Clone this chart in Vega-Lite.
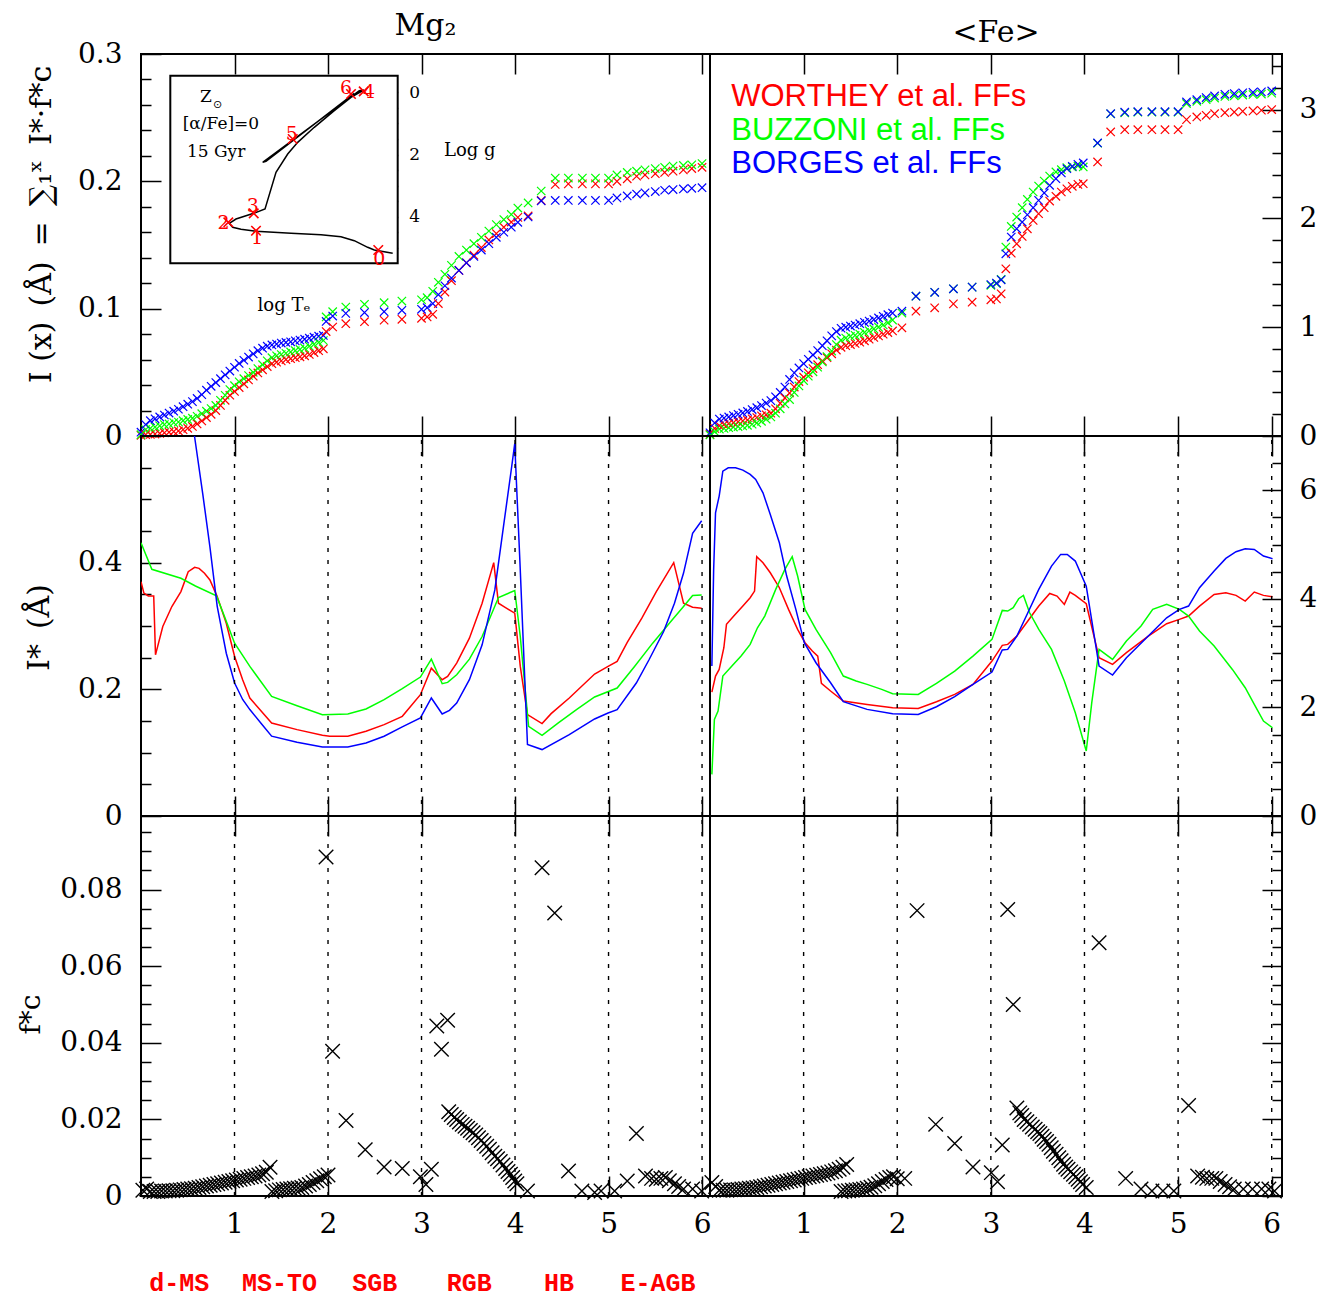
{
"$schema":"https://vega.github.io/schema/vega-lite/v6.json",
"background":"white",
"padding":{"left":16,"top":10,"right":0,"bottom":4},
"datasets":{
"tl":[
{"x":0.00,"W":0.0005,"B":0.001,"Bo":0.003},{"x":0.05,"W":0.001,"B":0.005,"Bo":0.009},{"x":0.10,"W":0.0012,"B":0.006,"Bo":0.012},{"x":0.15,"W":0.0015,"B":0.007,"Bo":0.0135},{"x":0.20,"W":0.002,"B":0.008,"Bo":0.015},{"x":0.25,"W":0.0025,"B":0.009,"Bo":0.0165},{"x":0.30,"W":0.003,"B":0.0095,"Bo":0.018},{"x":0.35,"W":0.0035,"B":0.0105,"Bo":0.0195},{"x":0.40,"W":0.004,"B":0.011,"Bo":0.021},{"x":0.45,"W":0.005,"B":0.012,"Bo":0.023},{"x":0.50,"W":0.006,"B":0.013,"Bo":0.025},{"x":0.55,"W":0.0075,"B":0.014,"Bo":0.027},{"x":0.60,"W":0.0095,"B":0.0155,"Bo":0.0295},{"x":0.65,"W":0.0118,"B":0.0175,"Bo":0.0325},{"x":0.70,"W":0.0145,"B":0.0195,"Bo":0.036},{"x":0.75,"W":0.017,"B":0.0215,"Bo":0.039},{"x":0.80,"W":0.02,"B":0.024,"Bo":0.042},{"x":0.85,"W":0.024,"B":0.028,"Bo":0.045},{"x":0.90,"W":0.028,"B":0.032,"Bo":0.048},{"x":0.95,"W":0.032,"B":0.0365,"Bo":0.051},{"x":1.00,"W":0.035,"B":0.0395,"Bo":0.054},{"x":1.05,"W":0.038,"B":0.0425,"Bo":0.057},{"x":1.10,"W":0.041,"B":0.045,"Bo":0.0595},{"x":1.15,"W":0.044,"B":0.0475,"Bo":0.062},{"x":1.20,"W":0.047,"B":0.05,"Bo":0.0645},{"x":1.25,"W":0.0495,"B":0.053,"Bo":0.067},{"x":1.30,"W":0.052,"B":0.056,"Bo":0.069},{"x":1.35,"W":0.0545,"B":0.059,"Bo":0.0705},{"x":1.40,"W":0.0568,"B":0.0615,"Bo":0.0715},{"x":1.45,"W":0.058,"B":0.063,"Bo":0.0722},{"x":1.50,"W":0.059,"B":0.064,"Bo":0.073},{"x":1.55,"W":0.06,"B":0.065,"Bo":0.0735},{"x":1.60,"W":0.0607,"B":0.066,"Bo":0.074},{"x":1.65,"W":0.0615,"B":0.067,"Bo":0.0747},{"x":1.70,"W":0.0622,"B":0.068,"Bo":0.0753},{"x":1.75,"W":0.063,"B":0.069,"Bo":0.076},{"x":1.80,"W":0.064,"B":0.0705,"Bo":0.0768},{"x":1.85,"W":0.0655,"B":0.072,"Bo":0.0776},{"x":1.90,"W":0.067,"B":0.0735,"Bo":0.0784},{"x":1.95,"W":0.0685,"B":0.075,"Bo":0.079},
{"x":1.98,"W":0.082,"B":0.0935,"Bo":0.090},{"x":2.05,"W":0.0856,"B":0.0976,"Bo":0.0942},{"x":2.19,"W":0.0882,"B":0.1013,"Bo":0.0963},{"x":2.39,"W":0.0898,"B":0.1034,"Bo":0.0969},{"x":2.60,"W":0.0909,"B":0.1047,"Bo":0.0976},{"x":2.79,"W":0.0916,"B":0.106,"Bo":0.0987},{"x":3.00,"W":0.0924,"B":0.107,"Bo":0.0995},{"x":3.06,"W":0.0935,"B":0.1086,"Bo":0.1008},{"x":3.12,"W":0.0956,"B":0.1136,"Bo":0.104},{"x":3.18,"W":0.104,"B":0.1207,"Bo":0.111},{"x":3.25,"W":0.113,"B":0.127,"Bo":0.118},{"x":3.32,"W":0.122,"B":0.134,"Bo":0.124},{"x":3.40,"W":0.13,"B":0.141,"Bo":0.13},{"x":3.48,"W":0.136,"B":0.146,"Bo":0.136},{"x":3.56,"W":0.142,"B":0.151,"Bo":0.141},{"x":3.64,"W":0.148,"B":0.156,"Bo":0.146},{"x":3.72,"W":0.154,"B":0.161,"Bo":0.151},{"x":3.80,"W":0.159,"B":0.166,"Bo":0.156},{"x":3.88,"W":0.164,"B":0.17,"Bo":0.16},{"x":3.96,"W":0.168,"B":0.174,"Bo":0.164},{"x":4.03,"W":0.1717,"B":0.179,"Bo":0.1678},{"x":4.14,"W":0.1728,"B":0.183,"Bo":0.172},{"x":4.28,"W":0.185,"B":0.1924,"Bo":0.1846},{"x":4.43,"W":0.1975,"B":0.2026,"Bo":0.185},{"x":4.57,"W":0.198,"B":0.2026,"Bo":0.185},{"x":4.72,"W":0.198,"B":0.2026,"Bo":0.185},{"x":4.86,"W":0.198,"B":0.2026,"Bo":0.185},{"x":5.00,"W":0.198,"B":0.2026,"Bo":0.185},{"x":5.09,"W":0.2,"B":0.205,"Bo":0.187},{"x":5.20,"W":0.202,"B":0.207,"Bo":0.1885},{"x":5.30,"W":0.204,"B":0.208,"Bo":0.19},{"x":5.39,"W":0.205,"B":0.209,"Bo":0.191},{"x":5.50,"W":0.206,"B":0.21,"Bo":0.192},{"x":5.60,"W":0.207,"B":0.211,"Bo":0.193},{"x":5.69,"W":0.208,"B":0.212,"Bo":0.1935},{"x":5.80,"W":0.209,"B":0.2125,"Bo":0.194},{"x":5.89,"W":0.21,"B":0.213,"Bo":0.1945},{"x":6.00,"W":0.211,"B":0.214,"Bo":0.195}
],
"tr":[
{"x":0.00,"W":0.015,"B":0.01,"Bo":0.03},{"x":0.05,"W":0.07,"B":0.04,"Bo":0.12},{"x":0.10,"W":0.095,"B":0.064,"Bo":0.156},{"x":0.15,"W":0.105,"B":0.07,"Bo":0.165},{"x":0.20,"W":0.114,"B":0.076,"Bo":0.175},{"x":0.25,"W":0.122,"B":0.082,"Bo":0.188},{"x":0.30,"W":0.13,"B":0.087,"Bo":0.2},{"x":0.35,"W":0.138,"B":0.092,"Bo":0.212},{"x":0.40,"W":0.146,"B":0.098,"Bo":0.226},{"x":0.45,"W":0.158,"B":0.108,"Bo":0.243},{"x":0.50,"W":0.17,"B":0.12,"Bo":0.26},{"x":0.55,"W":0.185,"B":0.135,"Bo":0.28},{"x":0.60,"W":0.195,"B":0.155,"Bo":0.302},{"x":0.65,"W":0.21,"B":0.175,"Bo":0.325},{"x":0.70,"W":0.25,"B":0.21,"Bo":0.36},{"x":0.75,"W":0.3,"B":0.25,"Bo":0.4},{"x":0.80,"W":0.35,"B":0.295,"Bo":0.45},{"x":0.85,"W":0.395,"B":0.335,"Bo":0.52},{"x":0.90,"W":0.45,"B":0.4,"Bo":0.58},{"x":0.95,"W":0.5,"B":0.46,"Bo":0.625},{"x":1.00,"W":0.54,"B":0.509,"Bo":0.665},{"x":1.05,"W":0.58,"B":0.55,"Bo":0.705},{"x":1.10,"W":0.62,"B":0.59,"Bo":0.745},{"x":1.15,"W":0.655,"B":0.632,"Bo":0.785},{"x":1.20,"W":0.69,"B":0.68,"Bo":0.83},{"x":1.25,"W":0.72,"B":0.73,"Bo":0.875},{"x":1.30,"W":0.755,"B":0.78,"Bo":0.92},{"x":1.35,"W":0.79,"B":0.84,"Bo":0.96},{"x":1.40,"W":0.815,"B":0.88,"Bo":0.99},{"x":1.45,"W":0.83,"B":0.9,"Bo":1.0},{"x":1.50,"W":0.84,"B":0.915,"Bo":1.01},{"x":1.55,"W":0.85,"B":0.925,"Bo":1.02},{"x":1.60,"W":0.862,"B":0.937,"Bo":1.032},{"x":1.65,"W":0.875,"B":0.952,"Bo":1.044},{"x":1.70,"W":0.89,"B":0.968,"Bo":1.056},{"x":1.75,"W":0.905,"B":0.984,"Bo":1.07},{"x":1.80,"W":0.92,"B":1.0,"Bo":1.085},{"x":1.85,"W":0.935,"B":1.02,"Bo":1.1},{"x":1.90,"W":0.95,"B":1.04,"Bo":1.115},{"x":1.95,"W":0.965,"B":1.065,"Bo":1.13},
{"x":2.05,"W":0.994,"B":1.13,"Bo":1.147},{"x":2.2,"W":1.147,"B":1.285,"Bo":1.285},{"x":2.4,"W":1.178,"B":1.32,"Bo":1.32},{"x":2.6,"W":1.214,"B":1.352,"Bo":1.352},{"x":2.8,"W":1.23,"B":1.368,"Bo":1.368},{"x":3.0,"W":1.251,"B":1.385,"Bo":1.392},{"x":3.06,"W":1.26,"B":1.4,"Bo":1.405},{"x":3.11,"W":1.306,"B":1.44,"Bo":1.435},{"x":3.16,"W":1.536,"B":1.736,"Bo":1.674},{"x":3.218,"W":1.68,"B":1.926,"Bo":1.828},{"x":3.276,"W":1.766,"B":2.012,"Bo":1.904},{"x":3.335,"W":1.834,"B":2.098,"Bo":1.966},{"x":3.39,"W":1.904,"B":2.174,"Bo":2.033},{"x":3.452,"W":1.981,"B":2.242,"Bo":2.098},{"x":3.51,"W":2.042,"B":2.297,"Bo":2.165},{"x":3.57,"W":2.098,"B":2.343,"Bo":2.233},{"x":3.628,"W":2.159,"B":2.389,"Bo":2.303},{"x":3.695,"W":2.202,"B":2.426,"Bo":2.364},{"x":3.753,"W":2.242,"B":2.447,"Bo":2.417},{"x":3.812,"W":2.272,"B":2.466,"Bo":2.456},{"x":3.87,"W":2.294,"B":2.472,"Bo":2.478},{"x":3.93,"W":2.312,"B":2.481,"Bo":2.496},{"x":3.987,"W":2.318,"B":2.472,"Bo":2.509},{"x":4.14,"W":2.518,"B":2.69,"Bo":2.693},{"x":4.28,"W":2.794,"B":2.96,"Bo":2.962},{"x":4.43,"W":2.815,"B":2.97,"Bo":2.975},{"x":4.57,"W":2.815,"B":2.975,"Bo":2.98},{"x":4.72,"W":2.815,"B":2.975,"Bo":2.98},{"x":4.86,"W":2.815,"B":2.975,"Bo":2.98},{"x":5.0,"W":2.815,"B":2.975,"Bo":2.98},{"x":5.09,"W":2.907,"B":3.055,"Bo":3.07},{"x":5.2,"W":2.932,"B":3.075,"Bo":3.09},{"x":5.3,"W":2.947,"B":3.09,"Bo":3.11},{"x":5.39,"W":2.962,"B":3.105,"Bo":3.125},{"x":5.5,"W":2.971,"B":3.12,"Bo":3.14},{"x":5.6,"W":2.976,"B":3.126,"Bo":3.146},{"x":5.69,"W":2.983,"B":3.133,"Bo":3.153},{"x":5.8,"W":2.987,"B":3.138,"Bo":3.158},{"x":5.89,"W":2.993,"B":3.142,"Bo":3.162},{"x":6.0,"W":2.999,"B":3.15,"Bo":3.171}
],
"ml":[
{"s":"W","x":0,"v":0.37},{"s":"W","x":0.031,"v":0.352},{"s":"W","x":0.078,"v":0.3475},{"s":"W","x":0.136,"v":0.3475},{"s":"W","x":0.155,"v":0.2545},{"s":"W","x":0.233,"v":0.2992},{"s":"W","x":0.33,"v":0.3307},{"s":"W","x":0.427,"v":0.3543},{"s":"W","x":0.505,"v":0.3858},{"s":"W","x":0.574,"v":0.3926},{"s":"W","x":0.621,"v":0.391},{"s":"W","x":0.679,"v":0.3832},{"s":"W","x":0.737,"v":0.3727},{"s":"W","x":0.815,"v":0.3464},{"s":"W","x":0.912,"v":0.3044},{"s":"W","x":1.001,"v":0.2519},{"s":"W","x":1.087,"v":0.2152},{"s":"W","x":1.164,"v":0.1863},{"s":"W","x":1.397,"v":0.1469},{"s":"W","x":1.669,"v":0.1364},{"s":"W","x":1.94,"v":0.1275},{"s":"W","x":2.018,"v":0.1259},{"s":"W","x":2.212,"v":0.1259},{"s":"W","x":2.406,"v":0.1338},{"s":"W","x":2.6,"v":0.1443},{"s":"W","x":2.794,"v":0.1574},{"s":"W","x":2.988,"v":0.1915},{"s":"W","x":3.105,"v":0.2335},{"s":"W","x":3.221,"v":0.2152},{"s":"W","x":3.279,"v":0.2204},{"s":"W","x":3.376,"v":0.2414},{"s":"W","x":3.512,"v":0.2808},{"s":"W","x":3.648,"v":0.3359},{"s":"W","x":3.772,"v":0.4},{"s":"W","x":3.823,"v":0.3359},{"s":"W","x":3.881,"v":0.3307},{"s":"W","x":3.997,"v":0.3202},{"s":"W","x":4.056,"v":0.2362},{"s":"W","x":4.133,"v":0.16},{"s":"W","x":4.289,"v":0.1459},{"s":"W","x":4.386,"v":0.1616},{"s":"W","x":4.58,"v":0.1863},{"s":"W","x":4.851,"v":0.2241},{"s":"W","x":4.995,"v":0.2362},{"s":"W","x":5.092,"v":0.244},{"s":"W","x":5.2,"v":0.274},{"s":"W","x":5.356,"v":0.3123},{"s":"W","x":5.511,"v":0.3543},{"s":"W","x":5.697,"v":0.4},{"s":"W","x":5.802,"v":0.3359},{"s":"W","x":5.899,"v":0.3296},{"s":"W","x":5.996,"v":0.328},
{"s":"B","x":0,"v":0.4315},{"s":"B","x":0.039,"v":0.4173},{"s":"B","x":0.116,"v":0.3895},{"s":"B","x":0.427,"v":0.3753},{"s":"B","x":0.582,"v":0.3632},{"s":"B","x":0.807,"v":0.3475},{"s":"B","x":0.893,"v":0.3149},{"s":"B","x":1.001,"v":0.2729},{"s":"B","x":1.164,"v":0.2362},{"s":"B","x":1.397,"v":0.1889},{"s":"B","x":1.669,"v":0.1742},{"s":"B","x":1.94,"v":0.16},{"s":"B","x":2.212,"v":0.1611},{"s":"B","x":2.406,"v":0.169},{"s":"B","x":2.6,"v":0.1837},{"s":"B","x":2.794,"v":0.201},{"s":"B","x":2.988,"v":0.2194},{"s":"B","x":3.105,"v":0.2477},{"s":"B","x":3.221,"v":0.2089},{"s":"B","x":3.279,"v":0.211},{"s":"B","x":3.376,"v":0.2231},{"s":"B","x":3.512,"v":0.2477},{"s":"B","x":3.648,"v":0.2834},{"s":"B","x":3.823,"v":0.345},{"s":"B","x":3.997,"v":0.356},{"s":"B","x":4.056,"v":0.2834},{"s":"B","x":4.145,"v":0.1417},{"s":"B","x":4.289,"v":0.1275},{"s":"B","x":4.463,"v":0.147},{"s":"B","x":4.657,"v":0.168},{"s":"B","x":4.851,"v":0.1879},{"s":"B","x":5.092,"v":0.2021},{"s":"B","x":5.278,"v":0.2362},{"s":"B","x":5.472,"v":0.2729},{"s":"B","x":5.666,"v":0.307},{"s":"B","x":5.802,"v":0.3307},{"s":"B","x":5.899,"v":0.348},{"s":"B","x":5.996,"v":0.349},
{"s":"Bo","x":0.45,"v":0.73},{"s":"Bo","x":0.574,"v":0.598},{"s":"Bo","x":0.66,"v":0.509},{"s":"Bo","x":0.737,"v":0.425},{"s":"Bo","x":0.815,"v":0.331},{"s":"Bo","x":0.912,"v":0.257},{"s":"Bo","x":1.001,"v":0.21},{"s":"Bo","x":1.087,"v":0.184},{"s":"Bo","x":1.164,"v":0.168},{"s":"Bo","x":1.281,"v":0.147},{"s":"Bo","x":1.397,"v":0.126},{"s":"Bo","x":1.669,"v":0.1164},{"s":"Bo","x":1.94,"v":0.1091},{"s":"Bo","x":2.212,"v":0.1091},{"s":"Bo","x":2.406,"v":0.1154},{"s":"Bo","x":2.6,"v":0.1259},{"s":"Bo","x":2.794,"v":0.1406},{"s":"Bo","x":2.988,"v":0.1548},{"s":"Bo","x":3.105,"v":0.1863},{"s":"Bo","x":3.221,"v":0.1611},{"s":"Bo","x":3.299,"v":0.1668},{"s":"Bo","x":3.376,"v":0.1784},{"s":"Bo","x":3.512,"v":0.2152},{"s":"Bo","x":3.648,"v":0.2703},{"s":"Bo","x":3.784,"v":0.357},{"s":"Bo","x":3.881,"v":0.4619},{"s":"Bo","x":3.959,"v":0.5459},{"s":"Bo","x":3.997,"v":0.5879},{"s":"Bo","x":4.056,"v":0.3884},{"s":"Bo","x":4.133,"v":0.1128},{"s":"Bo","x":4.289,"v":0.1049},{"s":"Bo","x":4.58,"v":0.1285},{"s":"Bo","x":4.851,"v":0.1532},{"s":"Bo","x":4.995,"v":0.1627},{"s":"Bo","x":5.092,"v":0.1679},{"s":"Bo","x":5.297,"v":0.2099},{"s":"Bo","x":5.433,"v":0.2467},{"s":"Bo","x":5.589,"v":0.2913},{"s":"Bo","x":5.705,"v":0.3359},{"s":"Bo","x":5.802,"v":0.3836},{"s":"Bo","x":5.899,"v":0.4462},{"s":"Bo","x":5.996,"v":0.4661}
],
"mr":[
{"s":"W","x":0.02,"v":2.283},{"s":"W","x":0.059,"v":2.578},{"s":"W","x":0.098,"v":2.7},{"s":"W","x":0.148,"v":3.1},{"s":"W","x":0.176,"v":3.53},{"s":"W","x":0.254,"v":3.683},{"s":"W","x":0.351,"v":3.867},{"s":"W","x":0.429,"v":4.02},{"s":"W","x":0.476,"v":4.143},{"s":"W","x":0.499,"v":4.776},{"s":"W","x":0.566,"v":4.665},{"s":"W","x":0.644,"v":4.481},{"s":"W","x":0.741,"v":4.205},{"s":"W","x":0.839,"v":3.806},{"s":"W","x":0.936,"v":3.437},{"s":"W","x":1.015,"v":3.192},{"s":"W","x":1.093,"v":3.038},{"s":"W","x":1.151,"v":2.946},{"s":"W","x":1.19,"v":2.443},{"s":"W","x":1.288,"v":2.302},{"s":"W","x":1.424,"v":2.118},{"s":"W","x":1.678,"v":2.056},{"s":"W","x":1.951,"v":1.995},{"s":"W","x":2.224,"v":1.982},{"s":"W","x":2.419,"v":2.105},{"s":"W","x":2.614,"v":2.24},{"s":"W","x":2.809,"v":2.425},{"s":"W","x":3.012,"v":2.854},{"s":"W","x":3.122,"v":3.143},{"s":"W","x":3.18,"v":3.161},{"s":"W","x":3.278,"v":3.315},{"s":"W","x":3.395,"v":3.591},{"s":"W","x":3.512,"v":3.867},{"s":"W","x":3.629,"v":4.1},{"s":"W","x":3.707,"v":4.051},{"s":"W","x":3.785,"v":3.898},{"s":"W","x":3.844,"v":4.125},{"s":"W","x":3.902,"v":4.064},{"s":"W","x":4.019,"v":3.91},{"s":"W","x":4.156,"v":2.916},{"s":"W","x":4.3,"v":2.793},{"s":"W","x":4.448,"v":3.008},{"s":"W","x":4.682,"v":3.315},{"s":"W","x":4.878,"v":3.542},{"s":"W","x":5.014,"v":3.622},{"s":"W","x":5.112,"v":3.683},{"s":"W","x":5.229,"v":3.867},{"s":"W","x":5.385,"v":4.082},{"s":"W","x":5.51,"v":4.113},{"s":"W","x":5.619,"v":4.064},{"s":"W","x":5.717,"v":3.959},{"s":"W","x":5.814,"v":4.125},{"s":"W","x":5.912,"v":4.064},{"s":"W","x":6.009,"v":4.039},
{"s":"B","x":0.02,"v":0.767},{"s":"B","x":0.047,"v":1.78},{"s":"B","x":0.086,"v":1.933},{"s":"B","x":0.137,"v":2.578},{"s":"B","x":0.234,"v":2.762},{"s":"B","x":0.332,"v":2.946},{"s":"B","x":0.429,"v":3.161},{"s":"B","x":0.507,"v":3.468},{"s":"B","x":0.585,"v":3.683},{"s":"B","x":0.702,"v":4.174},{"s":"B","x":0.8,"v":4.542},{"s":"B","x":0.878,"v":4.776},{"s":"B","x":0.936,"v":4.42},{"s":"B","x":1.015,"v":3.806},{"s":"B","x":1.132,"v":3.437},{"s":"B","x":1.288,"v":3.008},{"s":"B","x":1.424,"v":2.578},{"s":"B","x":1.561,"v":2.486},{"s":"B","x":1.678,"v":2.425},{"s":"B","x":1.834,"v":2.332},{"s":"B","x":1.951,"v":2.253},{"s":"B","x":2.224,"v":2.24},{"s":"B","x":2.419,"v":2.443},{"s":"B","x":2.614,"v":2.67},{"s":"B","x":2.809,"v":2.946},{"s":"B","x":3.012,"v":3.253},{"s":"B","x":3.122,"v":3.787},{"s":"B","x":3.18,"v":3.775},{"s":"B","x":3.239,"v":3.836},{"s":"B","x":3.297,"v":4.002},{"s":"B","x":3.348,"v":4.064},{"s":"B","x":3.414,"v":3.744},{"s":"B","x":3.512,"v":3.437},{"s":"B","x":3.648,"v":3.069},{"s":"B","x":3.785,"v":2.486},{"s":"B","x":3.902,"v":1.903},{"s":"B","x":4.019,"v":1.197},{"s":"B","x":4.078,"v":2.087},{"s":"B","x":4.156,"v":3.069},{"s":"B","x":4.3,"v":2.885},{"s":"B","x":4.448,"v":3.222},{"s":"B","x":4.604,"v":3.499},{"s":"B","x":4.729,"v":3.806},{"s":"B","x":4.878,"v":3.898},{"s":"B","x":5.014,"v":3.806},{"s":"B","x":5.112,"v":3.683},{"s":"B","x":5.229,"v":3.407},{"s":"B","x":5.385,"v":3.13},{"s":"B","x":5.58,"v":2.7},{"s":"B","x":5.717,"v":2.363},{"s":"B","x":5.814,"v":2.056},{"s":"B","x":5.912,"v":1.749},{"s":"B","x":6.009,"v":1.626},
{"s":"Bo","x":0.02,"v":2.762},{"s":"Bo","x":0.039,"v":4.542},{"s":"Bo","x":0.059,"v":5.586},{"s":"Bo","x":0.098,"v":5.893},{"s":"Bo","x":0.137,"v":6.353},{"s":"Bo","x":0.195,"v":6.415},{"s":"Bo","x":0.273,"v":6.415},{"s":"Bo","x":0.351,"v":6.372},{"s":"Bo","x":0.429,"v":6.292},{"s":"Bo","x":0.488,"v":6.2},{"s":"Bo","x":0.566,"v":5.954},{"s":"Bo","x":0.644,"v":5.555},{"s":"Bo","x":0.741,"v":5.034},{"s":"Bo","x":0.819,"v":4.42},{"s":"Bo","x":0.917,"v":3.806},{"s":"Bo","x":1.007,"v":3.192},{"s":"Bo","x":1.132,"v":2.823},{"s":"Bo","x":1.288,"v":2.455},{"s":"Bo","x":1.424,"v":2.105},{"s":"Bo","x":1.678,"v":1.964},{"s":"Bo","x":1.951,"v":1.884},{"s":"Bo","x":2.224,"v":1.872},{"s":"Bo","x":2.419,"v":2.013},{"s":"Bo","x":2.614,"v":2.197},{"s":"Bo","x":2.809,"v":2.425},{"s":"Bo","x":3.012,"v":2.652},{"s":"Bo","x":3.122,"v":3.057},{"s":"Bo","x":3.18,"v":3.069},{"s":"Bo","x":3.278,"v":3.315},{"s":"Bo","x":3.395,"v":3.744},{"s":"Bo","x":3.512,"v":4.174},{"s":"Bo","x":3.648,"v":4.604},{"s":"Bo","x":3.746,"v":4.819},{"s":"Bo","x":3.816,"v":4.819},{"s":"Bo","x":3.902,"v":4.696},{"s":"Bo","x":4.019,"v":4.235},{"s":"Bo","x":4.156,"v":2.762},{"s":"Bo","x":4.3,"v":2.596},{"s":"Bo","x":4.448,"v":2.916},{"s":"Bo","x":4.682,"v":3.315},{"s":"Bo","x":4.878,"v":3.652},{"s":"Bo","x":5.014,"v":3.806},{"s":"Bo","x":5.112,"v":3.867},{"s":"Bo","x":5.229,"v":4.205},{"s":"Bo","x":5.385,"v":4.512},{"s":"Bo","x":5.51,"v":4.745},{"s":"Bo","x":5.619,"v":4.868},{"s":"Bo","x":5.717,"v":4.923},{"s":"Bo","x":5.814,"v":4.911},{"s":"Bo","x":5.912,"v":4.788},{"s":"Bo","x":6.009,"v":4.739}
],
"bl":[
{"x":0.02,"v":0.0015},{"x":0.06,"v":0.0018},{"x":0.10,"v":0.0012},{"x":0.14,"v":0.0012},{"x":0.18,"v":0.0012},{"x":0.22,"v":0.0013},{"x":0.26,"v":0.0013},{"x":0.30,"v":0.0014},{"x":0.34,"v":0.0014},{"x":0.38,"v":0.0015},{"x":0.42,"v":0.0016},{"x":0.46,"v":0.0017},{"x":0.50,"v":0.0018},{"x":0.54,"v":0.0019},{"x":0.58,"v":0.002},{"x":0.62,"v":0.0022},{"x":0.66,"v":0.0024},{"x":0.70,"v":0.0026},{"x":0.74,"v":0.0028},{"x":0.78,"v":0.003},{"x":0.82,"v":0.0032},{"x":0.86,"v":0.0034},{"x":0.90,"v":0.0036},{"x":0.94,"v":0.0038},{"x":0.98,"v":0.004},{"x":1.02,"v":0.0042},{"x":1.06,"v":0.0044},{"x":1.10,"v":0.0046},{"x":1.14,"v":0.0048},{"x":1.18,"v":0.005},{"x":1.22,"v":0.0052},{"x":1.26,"v":0.0055},{"x":1.30,"v":0.0058},{"x":1.34,"v":0.0062},{"x":1.38,"v":0.0075},
{"x":1.40,"v":0.0012},{"x":1.44,"v":0.0014},{"x":1.48,"v":0.0016},{"x":1.52,"v":0.0017},{"x":1.56,"v":0.0018},{"x":1.60,"v":0.0019},{"x":1.64,"v":0.002},{"x":1.68,"v":0.0021},{"x":1.72,"v":0.0022},{"x":1.76,"v":0.0026},{"x":1.80,"v":0.003},{"x":1.84,"v":0.0035},{"x":1.88,"v":0.004},{"x":1.92,"v":0.0045},{"x":1.96,"v":0.005},{"x":2.00,"v":0.0055},
{"x":1.979,"v":0.0885},{"x":2.049,"v":0.0378},{"x":2.193,"v":0.0197},{"x":2.398,"v":0.0121},{"x":2.6,"v":0.0076},{"x":2.794,"v":0.0072},{"x":2.988,"v":0.005},{"x":3.047,"v":0.003},{"x":3.105,"v":0.007},{"x":3.163,"v":0.0444},{"x":3.213,"v":0.0383},{"x":3.279,"v":0.0459},{"x":3.291,"v":0.022},{"x":3.318,"v":0.0213},{"x":3.35,"v":0.0205},{"x":3.376,"v":0.02},{"x":3.405,"v":0.0193},{"x":3.435,"v":0.0187},{"x":3.465,"v":0.0182},{"x":3.493,"v":0.0177},{"x":3.522,"v":0.0171},{"x":3.551,"v":0.0165},{"x":3.58,"v":0.0159},{"x":3.609,"v":0.0152},{"x":3.638,"v":0.0145},{"x":3.668,"v":0.0137},{"x":3.697,"v":0.013},{"x":3.726,"v":0.0122},{"x":3.755,"v":0.0113},{"x":3.784,"v":0.0104},{"x":3.813,"v":0.0097},{"x":3.842,"v":0.009},{"x":3.871,"v":0.0081},{"x":3.9,"v":0.0072},{"x":3.925,"v":0.0064},{"x":3.951,"v":0.0057},{"x":3.975,"v":0.0048},{"x":3.997,"v":0.0039},{"x":4.02,"v":0.0032},{"x":4.133,"v":0.0013},{"x":4.289,"v":0.0857},{"x":4.424,"v":0.0739},{"x":4.572,"v":0.0065},{"x":4.715,"v":0.0013},{"x":4.851,"v":0.0009},{"x":4.92,"v":0.0013},{"x":5.065,"v":0.0013},{"x":5.2,"v":0.0039},{"x":5.298,"v":0.0163},{"x":5.395,"v":0.0052},{"x":5.46,"v":0.0046},{"x":5.511,"v":0.0044},{"x":5.56,"v":0.0046},{"x":5.608,"v":0.0048},{"x":5.65,"v":0.004},{"x":5.705,"v":0.0032},{"x":5.75,"v":0.0025},{"x":5.802,"v":0.0018},{"x":5.899,"v":0.0018},{"x":5.996,"v":0.0013}
],
"br":[
{"x":0.02,"v":0.0035},{"x":0.06,"v":0.0025},{"x":0.10,"v":0.0015},{"x":0.14,"v":0.0015},{"x":0.18,"v":0.0015},{"x":0.22,"v":0.0016},{"x":0.26,"v":0.0016},{"x":0.30,"v":0.0017},{"x":0.34,"v":0.0018},{"x":0.38,"v":0.0019},{"x":0.42,"v":0.002},{"x":0.46,"v":0.0021},{"x":0.50,"v":0.0022},{"x":0.54,"v":0.0024},{"x":0.58,"v":0.0026},{"x":0.62,"v":0.0028},{"x":0.66,"v":0.003},{"x":0.70,"v":0.0032},{"x":0.74,"v":0.0034},{"x":0.78,"v":0.0036},{"x":0.82,"v":0.0038},{"x":0.86,"v":0.004},{"x":0.90,"v":0.0042},{"x":0.94,"v":0.0044},{"x":0.98,"v":0.0046},{"x":1.02,"v":0.0048},{"x":1.06,"v":0.005},{"x":1.10,"v":0.0052},{"x":1.14,"v":0.0054},{"x":1.18,"v":0.0056},{"x":1.22,"v":0.0058},{"x":1.26,"v":0.006},{"x":1.30,"v":0.0063},{"x":1.34,"v":0.0066},{"x":1.38,"v":0.007},{"x":1.42,"v":0.0075},{"x":1.46,"v":0.0082},
{"x":1.40,"v":0.0012},{"x":1.44,"v":0.0013},{"x":1.48,"v":0.0014},{"x":1.52,"v":0.0015},{"x":1.56,"v":0.0016},{"x":1.60,"v":0.0017},{"x":1.64,"v":0.0018},{"x":1.68,"v":0.002},{"x":1.72,"v":0.0023},{"x":1.76,"v":0.0027},{"x":1.80,"v":0.0032},{"x":1.84,"v":0.0038},{"x":1.88,"v":0.0043},{"x":1.92,"v":0.0048},{"x":1.96,"v":0.005},{"x":2.00,"v":0.0045},
{"x":2.08,"v":0.0046},{"x":2.212,"v":0.0745},{"x":2.411,"v":0.0187},{"x":2.614,"v":0.0137},{"x":2.809,"v":0.0076},{"x":3.005,"v":0.0061},{"x":3.071,"v":0.0037},{"x":3.122,"v":0.0133},{"x":3.18,"v":0.0748},{"x":3.239,"v":0.05},{"x":3.278,"v":0.023},{"x":3.309,"v":0.0217},{"x":3.33,"v":0.021},{"x":3.356,"v":0.02},{"x":3.385,"v":0.0194},{"x":3.414,"v":0.0187},{"x":3.443,"v":0.018},{"x":3.473,"v":0.0174},{"x":3.5,"v":0.0168},{"x":3.524,"v":0.0163},{"x":3.547,"v":0.0156},{"x":3.57,"v":0.0148},{"x":3.595,"v":0.0142},{"x":3.621,"v":0.0135},{"x":3.645,"v":0.0126},{"x":3.668,"v":0.0117},{"x":3.697,"v":0.0109},{"x":3.726,"v":0.01},{"x":3.75,"v":0.0092},{"x":3.777,"v":0.0083},{"x":3.8,"v":0.0076},{"x":3.824,"v":0.007},{"x":3.853,"v":0.0063},{"x":3.882,"v":0.0057},{"x":3.908,"v":0.005},{"x":3.933,"v":0.0044},{"x":3.957,"v":0.0037},{"x":3.98,"v":0.003},{"x":4.019,"v":0.0022},{"x":4.156,"v":0.0661},{"x":4.44,"v":0.0046},{"x":4.604,"v":0.0018},{"x":4.721,"v":0.0013},{"x":4.838,"v":0.0013},{"x":4.955,"v":0.0013},{"x":5.112,"v":0.0236},{"x":5.209,"v":0.0052},{"x":5.26,"v":0.0049},{"x":5.307,"v":0.0046},{"x":5.36,"v":0.0046},{"x":5.404,"v":0.0046},{"x":5.45,"v":0.0038},{"x":5.502,"v":0.003},{"x":5.55,"v":0.0024},{"x":5.6,"v":0.0018},{"x":5.697,"v":0.0018},{"x":5.794,"v":0.0018},{"x":5.892,"v":0.0018},{"x":5.97,"v":0.0018},{"x":6.03,"v":0.0013}
],
"track":[
{"o":1,"u":3.5577,"g":5.177},{"o":2,"u":3.586,"g":5.07},{"o":3,"u":3.5962,"g":4.984},{"o":4,"u":3.6168,"g":4.771},{"o":5,"u":3.6373,"g":4.643},{"o":6,"u":3.668,"g":4.579},{"o":7,"u":3.7142,"g":4.534},{"o":8,"u":3.7681,"g":4.469},{"o":9,"u":3.7912,"g":4.405},{"o":10,"u":3.804,"g":4.341},{"o":11,"u":3.8092,"g":4.212},{"o":12,"u":3.7989,"g":4.074},{"o":13,"u":3.7716,"g":3.891},{"o":14,"u":3.7542,"g":3.752},{"o":15,"u":3.7373,"g":2.572},{"o":16,"u":3.7193,"g":1.984},{"o":17,"u":3.7039,"g":1.608},{"o":18,"u":3.6784,"g":1.125},{"o":19,"u":3.6476,"g":0.591},{"o":20,"u":3.6219,"g":0.161},{"o":21,"u":3.6023,"g":-0.074},{"o":22,"u":3.6091,"g":-0.052},{"o":23,"u":3.7578,"g":2.251},{"o":24,"u":3.7527,"g":2.218},{"o":25,"u":3.6168,"g":0.032}
],
"stages":[
{"n":"0","u":3.5799,"g":5.07,"tu":3.5783,"tg":5.35},{"n":"1","u":3.7681,"g":4.45,"tu":3.7666,"tg":4.68},{"n":"2","u":3.8107,"g":4.18,"tu":3.818,"tg":4.2},{"n":"3","u":3.7716,"g":3.891,"tu":3.7732,"tg":3.66},{"n":"4","u":3.6023,"g":-0.032,"tu":3.5942,"tg":-0.01},{"n":"5","u":3.7116,"g":1.501,"tu":3.7131,"tg":1.33},{"n":"6","u":3.6219,"g":0.054,"tu":3.6296,"tg":-0.14}
],
"notes":[
{"t":"Z","u":3.8543,"g":0.151},{"t":"[α/Fe]=0","u":3.8809,"g":1.019},{"t":"15 Gyr","u":3.8743,"g":1.919}
],
"ltxt":[{"t":"Log g","x":3.24,"y":0.224},{"t":"log Tₑ","x":1.247,"y":0.1023}],
"legend":[{"s":"W","t":"WORTHEY et al. FFs","y":3.116},{"s":"B","t":"BUZZONI et al. FFs","y":2.803},{"s":"Bo","t":"BORGES et al. FFs","y":2.502}],
"phases":[{"t":"d-MS","x":0.41},{"t":"MS-TO","x":1.48},{"t":"SGB","x":2.5},{"t":"RGB","x":3.51},{"t":"HB","x":4.47},{"t":"E-AGB","x":5.53}],
"vticks":[{"x":1},{"x":2},{"x":3},{"x":4},{"x":5},{"x":6}]
},
"concat":[
{"width":569,"height":382,
 "title":{"text":"Mg₂","font":"DejaVu Serif","fontSize":30,"fontWeight":"normal","anchor":"middle","offset":-1,"color":"black"},
 "resolve":{"scale":{"x":"independent","y":"independent"},"axis":{"x":"independent","y":"independent"}},
 "layer":[
  {"data":{"name":"tl"},"transform":[{"fold":["W","B","Bo"],"as":["s","v"]}],
   "mark":{"type":"point","shape":"M-1,-1L1,1M-1,1L1,-1","filled":false,"size":70,"strokeWidth":1.2,"opacity":1},
   "encoding":{
    "x":{"field":"x","type":"quantitative","scale":{"domain":[0,6.085],"nice":false,"zero":false},"axis":{"orient":"bottom","values":[1,2,3,4,5,6],"tickSize":-20,"labels":false,"title":null}},
    "y":{"field":"v","type":"quantitative","scale":{"domain":[0,0.3],"nice":false,"zero":false},"axis":{"orient":"left","values":[0,0.1,0.2,0.3],"tickSize":-20,"labelPadding":39,"format":"~g","title":"I (x)\u2002(Å)\u2002=\u2002∑₁ˣ\u2002I*·f*ᴄ","titleFontSize":30,"titleX":-100,"titleY":170,"titleAngle":270,"titleAlign":"center","titleBaseline":"middle"}},
    "color":{"field":"s","type":"nominal","scale":{"domain":["W","B","Bo"],"range":["#ff0000","#00ff00","#0000ff"]},"legend":null}}},
  {"data":{"name":"ltxt"},"mark":{"type":"text","font":"DejaVu Serif","fontSize":18,"align":"left","baseline":"middle","color":"black"},
   "encoding":{
    "x":{"field":"x","type":"quantitative","scale":{"domain":[0,6.085],"nice":false,"zero":false},"axis":{"orient":"top","values":[1,2,3,4,5,6],"tickSize":-20,"labels":false,"title":null}},
    "y":{"field":"y","type":"quantitative","scale":{"domain":[0,0.3],"nice":false,"zero":false},"axis":{"orient":"left","values":[0.02,0.04,0.06,0.08,0.12,0.14,0.16,0.18,0.22,0.24,0.26,0.28],"tickSize":-10,"labels":false,"title":null}},
    "text":{"field":"t"}}},
  {"data":{"values":[{}]},"mark":{"type":"rect","fill":"white","stroke":"black","strokeWidth":2},
   "encoding":{
    "x":{"datum":3.9,"type":"quantitative","scale":{"domain":[3.0693,3.9451],"reverse":true,"nice":false,"zero":false},"axis":null},
    "x2":{"datum":3.55},
    "y":{"datum":-0.534,"type":"quantitative","scale":{"domain":[-1.232,11.051],"reverse":true,"nice":false,"zero":false},"axis":{"orient":"right","offset":-312.3,"values":[0,2,4],"tickSize":-12,"labelPadding":23,"labelFontSize":17,"format":"~g","title":null}},
    "y2":{"datum":5.498}}},
  {"data":{"name":"track"},"mark":{"type":"line","color":"black","strokeWidth":1.5},
   "encoding":{
    "x":{"field":"u","type":"quantitative","scale":{"domain":[3.0693,3.9451],"reverse":true,"nice":false,"zero":false},"axis":null},
    "y":{"field":"g","type":"quantitative","scale":{"domain":[-1.232,11.051],"reverse":true,"nice":false,"zero":false},"axis":{"orient":"right","offset":-312.3,"values":[0.5,1,1.5,2.5,3,3.5,4.5,5],"tickSize":-7,"labels":false,"title":null}},
    "order":{"field":"o","type":"quantitative"}}},
  {"data":{"name":"stages"},"mark":{"type":"point","shape":"M-1,-1L1,1M-1,1L1,-1","filled":false,"size":90,"strokeWidth":1.6,"color":"#ff0000","opacity":1},
   "encoding":{
    "x":{"field":"u","type":"quantitative","scale":{"domain":[3.0693,3.9451],"reverse":true,"nice":false,"zero":false},"axis":null},
    "y":{"field":"g","type":"quantitative","scale":{"domain":[-1.232,11.051],"reverse":true,"nice":false,"zero":false},"axis":null}}},
  {"data":{"name":"stages"},"mark":{"type":"text","font":"DejaVu Serif","fontSize":19,"color":"#ff0000","align":"center","baseline":"middle"},
   "encoding":{
    "x":{"field":"tu","type":"quantitative","scale":{"domain":[3.0693,3.9451],"reverse":true,"nice":false,"zero":false},"axis":null},
    "y":{"field":"tg","type":"quantitative","scale":{"domain":[-1.232,11.051],"reverse":true,"nice":false,"zero":false},"axis":null},
    "text":{"field":"n"}}},
  {"data":{"name":"notes"},"mark":{"type":"text","font":"DejaVu Serif","fontSize":17,"color":"black","align":"left","baseline":"middle"},
   "encoding":{
    "x":{"field":"u","type":"quantitative","scale":{"domain":[3.0693,3.9451],"reverse":true,"nice":false,"zero":false},"axis":null},
    "y":{"field":"g","type":"quantitative","scale":{"domain":[-1.232,11.051],"reverse":true,"nice":false,"zero":false},"axis":null},
    "text":{"field":"t"}}},
  {"data":{"values":[{"t":"⊙"}]},"mark":{"type":"text","font":"DejaVu Sans","fontSize":11,"color":"black","align":"left","baseline":"middle"},
   "encoding":{
    "x":{"datum":3.8343,"type":"quantitative","scale":{"domain":[3.0693,3.9451],"reverse":true,"nice":false,"zero":false},"axis":null},
    "y":{"datum":0.392,"type":"quantitative","scale":{"domain":[-1.232,11.051],"reverse":true,"nice":false,"zero":false},"axis":null},
    "text":{"field":"t"}}}
 ]},
{"width":572,"height":382,
 "title":{"text":"<Fe>","font":"DejaVu Serif","fontSize":30,"fontWeight":"normal","anchor":"middle","offset":5,"color":"black"},
 "resolve":{"axis":{"x":"independent","y":"independent"}},
 "layer":[
  {"data":{"name":"tr"},"transform":[{"fold":["W","B","Bo"],"as":["s","v"]}],
   "mark":{"type":"point","shape":"M-1,-1L1,1M-1,1L1,-1","filled":false,"size":70,"strokeWidth":1.2,"opacity":1},
   "encoding":{
    "x":{"field":"x","type":"quantitative","scale":{"domain":[0,6.11],"nice":false,"zero":false},"axis":{"orient":"bottom","values":[1,2,3,4,5,6],"tickSize":-20,"labels":false,"title":null}},
    "y":{"field":"v","type":"quantitative","scale":{"domain":[0,3.51],"nice":false,"zero":false},"axis":{"orient":"right","values":[0,1,2,3],"tickSize":-20,"labelPadding":37,"format":"~g","title":null}},
    "color":{"field":"s","type":"nominal","scale":{"domain":["W","B","Bo"],"range":["#ff0000","#00ff00","#0000ff"]},"legend":null}}},
  {"data":{"name":"legend"},"mark":{"type":"text","font":"Liberation Sans","fontSize":31,"align":"left","baseline":"middle"},
   "encoding":{
    "x":{"datum":0.227,"type":"quantitative","scale":{"domain":[0,6.11],"nice":false,"zero":false},"axis":{"orient":"top","values":[1,2,3,4,5,6],"tickSize":-20,"labels":false,"title":null}},
    "y":{"field":"y","type":"quantitative","scale":{"domain":[0,3.51],"nice":false,"zero":false},"axis":{"orient":"right","values":[0.2,0.4,0.6,0.8,1.2,1.4,1.6,1.8,2.2,2.4,2.6,2.8,3.2,3.4],"tickSize":-10,"labels":false,"title":null}},
    "color":{"field":"s","type":"nominal","scale":{"domain":["W","B","Bo"],"range":["#ff0000","#00ff00","#0000ff"]},"legend":null},
    "text":{"field":"t"}}}
 ]},
{"width":569,"height":380,
 "resolve":{"axis":{"x":"independent","y":"independent"}},
 "layer":[
  {"data":{"name":"ml"},"mark":{"type":"line","strokeWidth":1.5,"clip":true},
   "encoding":{
    "x":{"field":"x","type":"quantitative","scale":{"domain":[0,6.085],"nice":false,"zero":false},"axis":{"orient":"bottom","values":[1,2,3,4,5,6],"tickSize":-20,"labels":false,"title":null}},
    "y":{"field":"v","type":"quantitative","scale":{"domain":[0,0.6],"nice":false,"zero":false},"axis":{"orient":"left","values":[0,0.2,0.4],"tickSize":-20,"labelPadding":39,"format":"~g","title":"I*\u2002(Å)","titleFontSize":30,"titleX":-102,"titleY":191,"titleAngle":270,"titleAlign":"center","titleBaseline":"middle"}},
    "color":{"field":"s","type":"nominal","scale":{"domain":["W","B","Bo"],"range":["#ff0000","#00ff00","#0000ff"]},"legend":null}}},
  {"data":{"name":"vticks"},"mark":{"type":"rule","color":"black","strokeWidth":1.4,"strokeDash":[4,8]},
   "encoding":{
    "x":{"field":"x","type":"quantitative","scale":{"domain":[0,6.085],"nice":false,"zero":false},"axis":{"orient":"top","values":[1,2,3,4,5,6],"tickSize":-20,"labels":false,"title":null}},
    "y":{"datum":0,"type":"quantitative","scale":{"domain":[0,0.6],"nice":false,"zero":false},"axis":{"orient":"left","values":[0.05,0.1,0.15,0.25,0.3,0.35,0.45,0.5,0.55],"tickSize":-10,"labels":false,"title":null}},
    "y2":{"datum":0.6}}}
 ]},
{"width":572,"height":380,
 "resolve":{"axis":{"x":"independent","y":"independent"}},
 "layer":[
  {"data":{"name":"mr"},"mark":{"type":"line","strokeWidth":1.5,"clip":true},
   "encoding":{
    "x":{"field":"x","type":"quantitative","scale":{"domain":[0,6.11],"nice":false,"zero":false},"axis":{"orient":"bottom","values":[1,2,3,4,5,6],"tickSize":-20,"labels":false,"title":null}},
    "y":{"field":"v","type":"quantitative","scale":{"domain":[0,7],"nice":false,"zero":false},"axis":{"orient":"right","values":[0,2,4,6],"tickSize":-20,"labelPadding":37,"format":"~g","title":null}},
    "color":{"field":"s","type":"nominal","scale":{"domain":["W","B","Bo"],"range":["#ff0000","#00ff00","#0000ff"]},"legend":null}}},
  {"data":{"name":"vticks"},"mark":{"type":"rule","color":"black","strokeWidth":1.4,"strokeDash":[4,8]},
   "encoding":{
    "x":{"field":"x","type":"quantitative","scale":{"domain":[0,6.11],"nice":false,"zero":false},"axis":{"orient":"top","values":[1,2,3,4,5,6],"tickSize":-20,"labels":false,"title":null}},
    "y":{"datum":0,"type":"quantitative","scale":{"domain":[0,7],"nice":false,"zero":false},"axis":{"orient":"right","values":[0.5,1,1.5,2.5,3,3.5,4.5,5,5.5,6.5],"tickSize":-10,"labels":false,"title":null}},
    "y2":{"datum":7}}}
 ]},
{"width":569,"height":380,
 "resolve":{"axis":{"x":"independent","y":"independent"}},
 "layer":[
  {"data":{"name":"bl"},"mark":{"type":"point","shape":"M-1,-1L1,1M-1,1L1,-1","filled":false,"size":210,"strokeWidth":1.4,"color":"black","opacity":1},
   "encoding":{
    "x":{"field":"x","type":"quantitative","scale":{"domain":[0,6.085],"nice":false,"zero":false},"axis":{"orient":"bottom","values":[1,2,3,4,5,6],"tickSize":-20,"labelPadding":34,"format":"~g","title":null}},
    "y":{"field":"v","type":"quantitative","scale":{"domain":[0,0.0992],"nice":false,"zero":false},"axis":{"orient":"left","values":[0,0.02,0.04,0.06,0.08],"tickSize":-20,"labelPadding":39,"format":"~g","title":"f*ᴄ","titleFontSize":28,"titleX":-110,"titleY":198,"titleAngle":270,"titleAlign":"center","titleBaseline":"middle"}}}},
  {"data":{"name":"vticks"},"mark":{"type":"rule","color":"black","strokeWidth":1.4,"strokeDash":[4,8]},
   "encoding":{
    "x":{"field":"x","type":"quantitative","scale":{"domain":[0,6.085],"nice":false,"zero":false},"axis":{"orient":"top","values":[1,2,3,4,5,6],"tickSize":-20,"labels":false,"title":null}},
    "y":{"datum":0,"type":"quantitative","scale":{"domain":[0,0.0992],"nice":false,"zero":false},"axis":{"orient":"left","values":[0.005,0.01,0.015,0.025,0.03,0.035,0.045,0.05,0.055,0.065,0.07,0.075,0.085,0.09,0.095],"tickSize":-10,"labels":false,"title":null}},
    "y2":{"datum":0.0992}}},
  {"data":{"name":"phases"},"mark":{"type":"text","font":"Liberation Mono","fontWeight":"bold","fontSize":25,"color":"#ff0000","align":"center","baseline":"middle"},
   "encoding":{
    "x":{"field":"x","type":"quantitative","scale":{"domain":[0,6.085],"nice":false,"zero":false},"axis":null},
    "y":{"datum":-0.0228,"type":"quantitative","scale":{"domain":[0,0.0992],"nice":false,"zero":false},"axis":null},
    "text":{"field":"t"}}}
 ]},
{"width":572,"height":380,
 "resolve":{"axis":{"x":"independent","y":"independent"}},
 "layer":[
  {"data":{"name":"br"},"mark":{"type":"point","shape":"M-1,-1L1,1M-1,1L1,-1","filled":false,"size":210,"strokeWidth":1.4,"color":"black","opacity":1},
   "encoding":{
    "x":{"field":"x","type":"quantitative","scale":{"domain":[0,6.11],"nice":false,"zero":false},"axis":{"orient":"bottom","values":[1,2,3,4,5,6],"tickSize":-20,"labelPadding":34,"format":"~g","title":null}},
    "y":{"field":"v","type":"quantitative","scale":{"domain":[0,0.0992],"nice":false,"zero":false},"axis":{"orient":"right","values":[0,0.02,0.04,0.06,0.08],"tickSize":-20,"labels":false,"title":null}}}},
  {"data":{"name":"vticks"},"mark":{"type":"rule","color":"black","strokeWidth":1.4,"strokeDash":[4,8]},
   "encoding":{
    "x":{"field":"x","type":"quantitative","scale":{"domain":[0,6.11],"nice":false,"zero":false},"axis":{"orient":"top","values":[1,2,3,4,5,6],"tickSize":-20,"labels":false,"title":null}},
    "y":{"datum":0,"type":"quantitative","scale":{"domain":[0,0.0992],"nice":false,"zero":false},"axis":{"orient":"right","values":[0.005,0.01,0.015,0.025,0.03,0.035,0.045,0.05,0.055,0.065,0.07,0.075,0.085,0.09,0.095],"tickSize":-10,"labels":false,"title":null}},
    "y2":{"datum":0.0992}}}
 ]}
],
"columns":2,
"spacing":0,
"bounds":"flush",
"align":"each",
"config":{
 "view":{"stroke":"black","strokeWidth":2},
 "axis":{"domain":false,"grid":false,"ticks":true,"tickColor":"black","tickWidth":1.5,"labelFont":"DejaVu Serif","labelFontSize":28,"labelColor":"black","labelFlush":false,"labelOverlap":false,"labelBound":false,"titleFont":"DejaVu Serif","titleFontSize":26,"titleFontWeight":"normal","titleColor":"black"}
}
}
